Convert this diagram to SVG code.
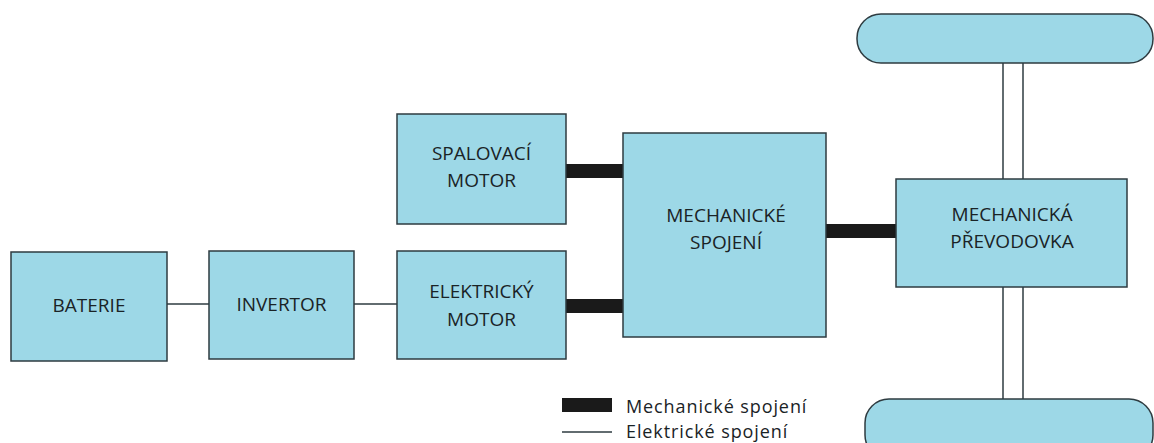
<svg xmlns="http://www.w3.org/2000/svg" width="1154" height="443" viewBox="0 0 1154 443">
<style>
.box{fill:#9dd8e7;stroke:#2e3b40;stroke-width:1.5}
.t{font-family:"Open Sans","Liberation Sans",sans-serif;font-size:19px;fill:#1a2326;text-anchor:middle}
.lg{font-family:"Open Sans","Liberation Sans",sans-serif;font-size:18px;letter-spacing:0.9px;fill:#1a2326}
.mech{stroke:#1a1a1a;stroke-width:14;fill:none}
.el{stroke:#2e3b40;stroke-width:1.5;fill:none}
</style>
<rect width="1154" height="443" fill="#ffffff"/>
<g id="connectors">
<line class="el" x1="167" y1="304" x2="209" y2="304"/>
<line class="el" x1="354" y1="304" x2="397" y2="304"/>
<line class="mech" x1="566" y1="171" x2="623" y2="171"/>
<line class="mech" x1="566" y1="306" x2="623" y2="306"/>
<line class="mech" x1="826" y1="231" x2="896" y2="231"/>
<line class="el" x1="1003" y1="63" x2="1003" y2="179"/>
<line class="el" x1="1023" y1="63" x2="1023" y2="179"/>
<line class="el" x1="1003" y1="287" x2="1003" y2="399"/>
<line class="el" x1="1023" y1="287" x2="1023" y2="399"/>
</g>
<g id="baterie">
<rect class="box" x="11" y="252" width="156" height="109"/>
<text class="t" x="89" y="312">BATERIE</text>
</g>
<g id="invertor">
<rect class="box" x="209" y="251" width="145" height="108"/>
<text class="t" x="281.5" y="311">INVERTOR</text>
</g>
<g id="spalovaci">
<rect class="box" x="397" y="114" width="169" height="110"/>
<text class="t" x="481.5" y="160">SPALOVACÍ</text>
<text class="t" x="481.5" y="187">MOTOR</text>
</g>
<g id="elektricky">
<rect class="box" x="397" y="251" width="169" height="108"/>
<text class="t" x="481.5" y="298">ELEKTRICKÝ</text>
<text class="t" x="481.5" y="326">MOTOR</text>
</g>
<g id="spojeni">
<rect class="box" x="623" y="133" width="203" height="204"/>
<text class="t" x="726" y="222">MECHANICKÉ</text>
<text class="t" x="726" y="249">SPOJENÍ</text>
</g>
<g id="prevodovka">
<rect class="box" x="896" y="179" width="231" height="108"/>
<text class="t" x="1012" y="221">MECHANICKÁ</text>
<text class="t" x="1012" y="248">PŘEVODOVKA</text>
</g>
<g id="wheel-top">
<rect class="box" x="857" y="14" width="296" height="49" rx="24" ry="24"/>
</g>
<g id="wheel-bottom">
<rect class="box" x="865" y="399" width="288" height="60" rx="24" ry="24"/>
</g>
<g id="legend">
<rect x="562" y="398" width="50" height="14" fill="#1a1a1a"/>
<text class="lg" x="626" y="413">Mechanické spojení</text>
<line class="el" x1="562" y1="432" x2="612" y2="432"/>
<text class="lg" x="626" y="438">Elektrické spojení</text>
</g>
</svg>
